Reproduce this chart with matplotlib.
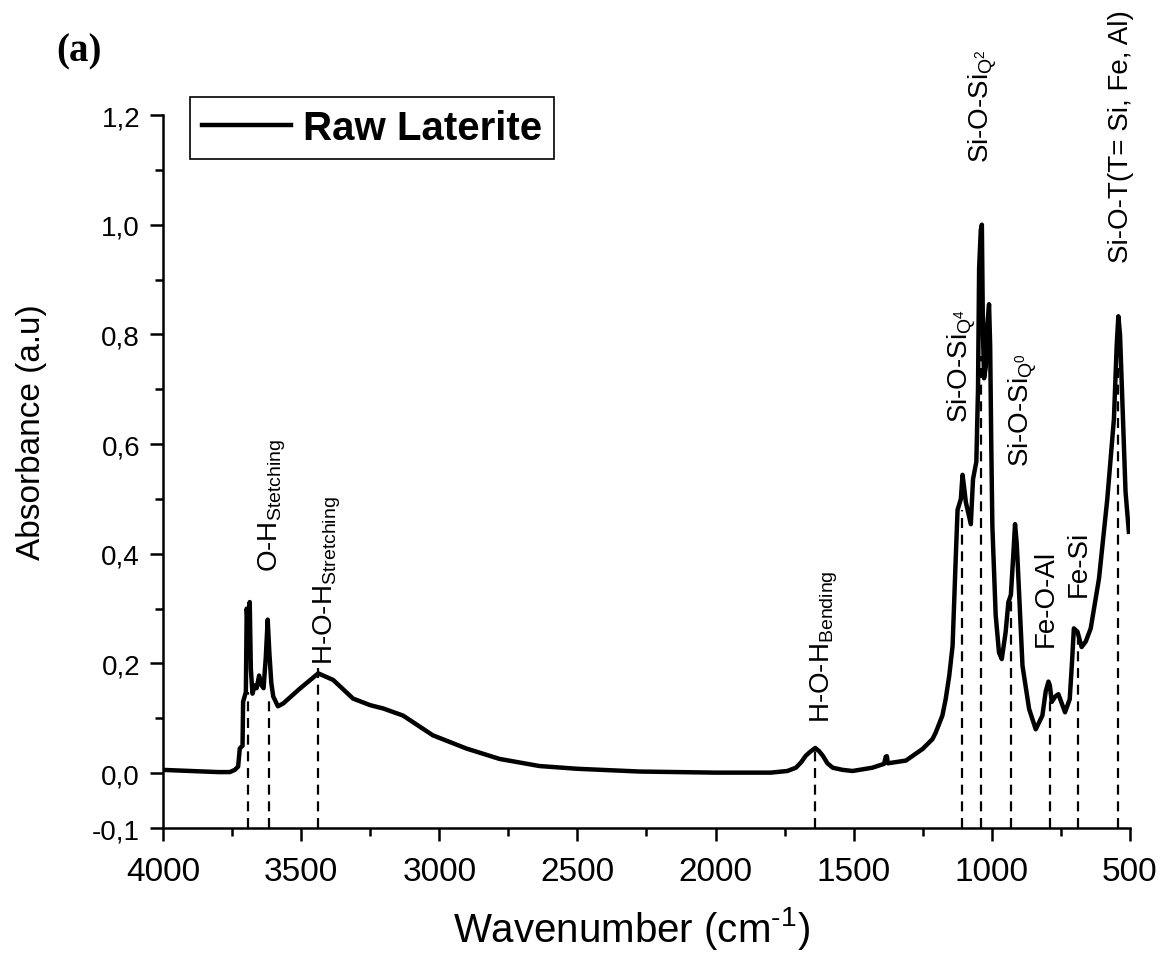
import matplotlib
matplotlib.use("Agg")
import matplotlib.pyplot as plt
from matplotlib.ticker import FixedLocator, FuncFormatter
from matplotlib.lines import Line2D

plt.rcParams.update({"font.family": "Liberation Sans", "mathtext.fontset": "custom",
                     "mathtext.rm": "Liberation Sans", "mathtext.it": "Liberation Sans:italic",
                     "mathtext.bf": "Liberation Sans:bold"})

# spectrum (wavenumber cm-1, absorbance)
wavenumber = [4000, 3900, 3800, 3758, 3740, 3728, 3722, 3712, 3710, 3700, 3697, 3691, 3686, 3682,
              3676, 3668, 3661, 3652, 3643, 3636, 3628, 3621, 3615, 3608, 3601, 3584, 3565, 3505,
              3438, 3384, 3312, 3250, 3203, 3131, 3023, 2902, 2782, 2637, 2500, 2275, 2000, 1800,
              1740, 1709, 1690, 1673, 1655, 1639, 1625, 1612, 1595, 1576, 1540, 1504, 1432, 1390,
              1384, 1380, 1376, 1311, 1251, 1215, 1203, 1179, 1167, 1154, 1142, 1136, 1130, 1124,
              1112, 1106, 1100, 1094, 1076, 1068, 1056, 1050, 1046, 1040, 1036, 1032, 1028, 1022,
              1016, 1010, 1006, 1002, 998, 986, 974, 964, 950, 940, 931, 922, 916, 910, 907, 889,
              865, 841, 817, 805, 795, 790, 783, 770, 759, 745, 735, 718, 710, 703, 695, 690, 675,
              660, 642, 612, 582, 558, 548, 542, 536, 528, 516, 504]
absorbance = [0.006, 0.004, 0.002, 0.002, 0.006, 0.012, 0.045, 0.05, 0.13, 0.148, 0.30, 0.26, 0.312, 0.19,
              0.145, 0.16, 0.155, 0.178, 0.16, 0.155, 0.21, 0.28, 0.22, 0.165, 0.14, 0.122, 0.127, 0.154,
              0.182, 0.17, 0.136, 0.124, 0.118, 0.105, 0.069, 0.045, 0.026, 0.013, 0.008, 0.003, 0.001, 0.001,
              0.004, 0.01, 0.02, 0.032, 0.04, 0.046, 0.04, 0.032, 0.018, 0.01, 0.006, 0.004, 0.01, 0.017,
              0.03, 0.031, 0.018, 0.023, 0.044, 0.062, 0.074, 0.105, 0.135, 0.178, 0.232, 0.317, 0.40, 0.48,
              0.50, 0.544, 0.52, 0.494, 0.454, 0.536, 0.568, 0.70, 0.92, 0.99, 1.0, 0.80, 0.72, 0.74,
              0.82, 0.855, 0.78, 0.60, 0.45, 0.288, 0.22, 0.208, 0.257, 0.312, 0.325, 0.40, 0.454, 0.42, 0.39, 0.196,
              0.117, 0.08, 0.105, 0.149, 0.167, 0.16, 0.13, 0.14, 0.144, 0.125, 0.111, 0.135, 0.20, 0.264, 0.26, 0.258, 0.23,
              0.24, 0.264, 0.355, 0.50, 0.646, 0.78, 0.833, 0.80, 0.683, 0.513, 0.44]

# band markers (dashed lines) and their labels
band_pos = [3692, 3616, 3438, 1639, 1108, 1040, 931, 790, 687, 542]
band_top = [0.148, 0.14, 0.193, 0.045, 0.48, 0.76, 0.325, 0.16, 0.264, 0.75]

label_text = [r"O-H$_{\mathrm{Stetching}}$", r"H-O-H$_{\mathrm{Stretching}}$", r"H-O-H$_{\mathrm{Bending}}$",
              r"Si-O-Si$_{\mathrm{Q}^{4}}$", r"Si-O-Si$_{\mathrm{Q}^{2}}$", r"Si-O-Si$_{\mathrm{Q}^{0}}$",
              "Fe-O-Al", "Fe-Si", "Si-O-T(T= Si, Fe, Al)"]
label_x = [3604, 3405, 1606, 1109, 1033, 889, 804, 684, 531]
label_y = [0.368, 0.199, 0.093, 0.640, 1.114, 0.56, 0.232, 0.323, 0.932]

y_major = [-0.1, 0.0, 0.2, 0.4, 0.6, 0.8, 1.0, 1.2]
y_minor = [0.1, 0.3, 0.5, 0.7, 0.9, 1.1]
x_major = [4000, 3500, 3000, 2500, 2000, 1500, 1000, 500]
x_minor = [3750, 3250, 2750, 2250, 1750, 1250, 750]

fig = plt.figure(figsize=(11.6, 9.54), dpi=100)
ax = fig.add_axes([0.1405, 0.131, 0.8336, 0.7474])

for xp, yt in zip(band_pos, band_top):
    ax.plot([xp, xp], [-0.1, yt], color="k", lw=1.6, ls=(0, (4.5, 3)), zorder=2)
ax.plot(wavenumber, absorbance, color="k", lw=3.2, solid_joinstyle="round", zorder=3)

for t, xp, yp in zip(label_text, label_x, label_y):
    ax.text(xp, yp, t, rotation=90, ha="center", va="bottom", fontsize=20, clip_on=False)

ax.set_xlim(4000, 500)
ax.set_ylim(-0.1, 1.2)
for s in ("top", "right"):
    ax.spines[s].set_visible(False)
for s in ("left", "bottom"):
    ax.spines[s].set_linewidth(1.8)

ax.xaxis.set_major_locator(FixedLocator(x_major))
ax.xaxis.set_minor_locator(FixedLocator(x_minor))
ax.yaxis.set_major_locator(FixedLocator(y_major))
ax.yaxis.set_minor_locator(FixedLocator(y_minor))
ax.yaxis.set_major_formatter(FuncFormatter(lambda v, p: f"{v:.1f}".replace(".", ",")))
ax.tick_params(which="major", direction="out", length=9.5, width=1.8)
ax.tick_params(which="minor", direction="out", length=6, width=1.8)
ax.tick_params(axis="y", labelsize=20, pad=7)
ax.tick_params(axis="x", labelsize=24, pad=11)

ax.set_xlabel(r"Wavenumber (cm$^{\text{-}1}$)", fontsize=29)
ax.set_ylabel("Absorbance (a.u)", fontsize=24)
ax.xaxis.set_label_coords(0.4845, -0.1066)
ax.yaxis.set_label_coords(-0.12, 0.557)

h = [Line2D([], [], color="k", lw=3.2)]
leg = fig.legend(h, ["Raw Laterite"], loc="upper left", bbox_to_anchor=(190 / 1160, 1 - 98 / 954),
                 bbox_transform=fig.transFigure, frameon=True, fancybox=False, edgecolor="k",
                 framealpha=1, borderaxespad=0, borderpad=0.3, handlelength=2.2, handletextpad=0.3,
                 prop={"family": "Liberation Sans", "weight": "bold", "size": 29})
leg.get_frame().set_linewidth(1.2)

fig.text(56 / 1160, 1 - 33 / 954, "(a)", fontsize=28, fontweight="bold",
         family="Liberation Serif", ha="left", va="top")

fig.savefig("out.png", dpi=100)
